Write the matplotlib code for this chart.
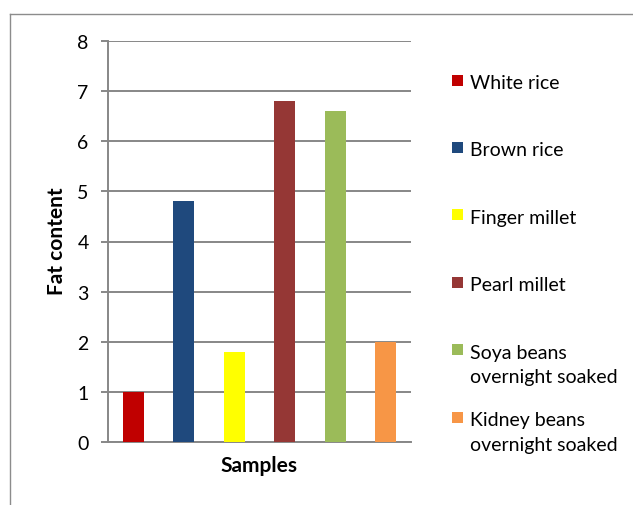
import matplotlib
matplotlib.use("Agg")
import matplotlib.pyplot as plt
from matplotlib.patches import Rectangle
from matplotlib.lines import Line2D

categories = ["White rice", "Brown rice", "Finger millet", "Pearl millet",
              "Soya beans\novernight soaked", "Kidney beans\novernight soaked"]
values = [1.0, 4.8, 1.8, 6.8, 6.6, 2.0]
colors = ["#C00000", "#1F497D", "#FFFF00", "#953735", "#9BBB59", "#F79646"]
yticks = [0, 1, 2, 3, 4, 5, 6, 7, 8]

W, H = 633, 506
plt.rcParams['font.family'] = ['Lato', 'DejaVu Sans']
fig = plt.figure(figsize=(W / 100, H / 100), dpi=100)

# figure border (only left and top visible)
fig.add_artist(Line2D([10 / W, 10 / W], [0, 1 - 15 / H], transform=fig.transFigure,
                      color="#8c8c8c", lw=1.0))
fig.add_artist(Line2D([10 / W, 1], [1 - 15 / H, 1 - 15 / H], transform=fig.transFigure,
                      color="#8c8c8c", lw=1.0))

left, right = 108 / W, 411 / W
bottom, top = 1 - 442.7 / H, 1 - 42.3 / H
ax = fig.add_axes([left, bottom, right - left, top - bottom])

x = list(range(len(values)))
ax.bar(x, values, width=0.42, color=colors, zorder=3)
ax.set_xlim(-0.5, len(values) - 0.5)
ax.set_ylim(0, 8)
ax.set_yticks(yticks)
ax.set_yticklabels([str(t) for t in yticks], fontsize=14)
ax.set_xticks([])

grid_c = "#878787"
ax.yaxis.grid(True, color=grid_c, lw=1.4, zorder=0)
ax.tick_params(axis='y', length=5, width=1.4, color=grid_c, pad=9)
for s in ["top", "right"]:
    ax.spines[s].set_visible(False)
ax.spines["left"].set_color(grid_c)
ax.spines["left"].set_linewidth(1.4)
ax.spines["bottom"].set_color(grid_c)
ax.spines["bottom"].set_linewidth(1.4)

fig.text(57 / W, 1 - 241 / H, "Fat content", rotation=90, ha="center", va="center",
         fontsize=15, fontweight="bold")
fig.text(259 / W, 1 - 466 / H, "Samples", ha="center", va="center",
         fontsize=15, fontweight="bold")

# legend
for i, (lab, c) in enumerate(zip(categories, colors)):
    yc = 81 + 67.4 * i
    fig.add_artist(Rectangle((452 / W, 1 - (yc + 5.5) / H), 11 / W, 11 / H,
                             transform=fig.transFigure, facecolor=c, edgecolor="none"))
    fig.text(470 / W, 1 - (yc - 6) / H, lab, ha="left", va="top", fontsize=14,
             linespacing=1.56)

fig.savefig("out.png", dpi=100)
